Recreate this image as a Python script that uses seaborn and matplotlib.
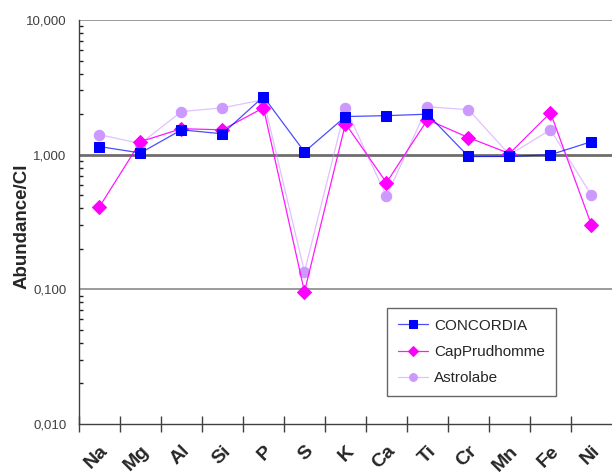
import pandas as pd
import matplotlib
matplotlib.use("Agg")
import matplotlib.pyplot as plt
import matplotlib.colors as mcolors
import matplotlib.transforms as mtransforms
import seaborn as sns

# ── data ────────────────────────────────────────────────────
elements = ["Na", "Mg", "Al", "Si", "P", "S", "K", "Ca", "Ti", "Cr", "Mn", "Fe", "Ni"]
concordia = [1.15, 1.03, 1.53, 1.43, 2.70, 1.05, 1.92, 1.95, 2.00, 0.97, 0.97, 1.00, 1.25]
cap_prudhomme = [0.41, 1.25, 1.56, 1.53, 2.23, 0.096, 1.70, 0.62, 1.82, 1.34, 1.02, 2.05, 0.30]
astrolabe = [1.41, 1.21, 2.09, 2.23, 2.56, 0.135, 2.23, 0.49, 2.27, 2.16, 1.00, 1.53, 0.50]
series_names = ["CONCORDIA", "CapPrudhomme", "Astrolabe"]
ytick_vals = [0.01, 0.1, 1, 10]
ytick_labels = ["0,010", "0,100", "1,000", "10,000"]

df = pd.DataFrame({
    "element": elements * 3,
    "value": concordia + cap_prudhomme + astrolabe,
    "site": [s for s in series_names for _ in elements],
})

sns.set_style("white")
plt.rcParams["font.family"] = ["Liberation Sans", "DejaVu Sans"]

palette = {"CONCORDIA": "#0000FF", "CapPrudhomme": "#FF00FF", "Astrolabe": "#CC99FF"}
markers = {"CONCORDIA": "s", "CapPrudhomme": "D", "Astrolabe": "o"}
msizes = {"CONCORDIA": 7.5, "CapPrudhomme": 7, "Astrolabe": 7.5}
line_alpha = {"CONCORDIA": 0.7, "CapPrudhomme": 0.9, "Astrolabe": 0.6}

fig = plt.figure(figsize=(6.12, 4.73), dpi=100)
ax = fig.add_axes([0.129, 0.1036, 0.871, 0.854])

# reference lines at decades
for v in [0.1, 10]:
    ax.axhline(v, color="#808080", lw=1.1, zorder=0)
ax.axhline(1, color="#6e6e6e", lw=2, zorder=0)

# draw in reverse so CONCORDIA sits on top
for name in series_names[::-1]:
    sub = df[df["site"] == name]
    sns.lineplot(
        data=sub, x="element", y="value", ax=ax, sort=False,
        color=palette[name], marker=markers[name], markersize=msizes[name],
        markeredgecolor=palette[name], markerfacecolor=palette[name],
        lw=0.9, label=name,
    )
    line = ax.get_lines()[-1]
    line.set_color(mcolors.to_rgba(palette[name], line_alpha[name]))

ax.set_yscale("log")
ax.set_ylim(0.01, 10)
ax.set_xlim(-0.5, 12.5)

ax.set_yticks(ytick_vals)
ax.set_yticklabels(ytick_labels, fontsize=9.5, color="#404040")
ax.tick_params(axis="y", which="major", direction="out", length=8, color="#404040", width=1, pad=1)
ax.tick_params(axis="y", which="minor", direction="in", length=3, color="#202020", width=1, left=True)

ax.set_xticks(range(len(elements)))
ax.set_xticklabels(elements, rotation=45, fontsize=14, fontweight="bold",
                   ha="right", va="center", rotation_mode="anchor")
ax.set_xticks([i - 0.5 for i in range(0, len(elements))], minor=True)
ax.tick_params(axis="x", which="major", length=0, pad=14)
ax.tick_params(axis="x", which="minor", direction="inout", length=12, color="#404040", width=1, bottom=True)
shift = mtransforms.ScaledTranslation(6 / 100, -5 / 100, fig.dpi_scale_trans)
for lbl in ax.get_xticklabels():
    lbl.set_transform(lbl.get_transform() + shift)

ax.set_xlabel("")
ax.set_ylabel("Abundance/CI", fontsize=13.5, fontweight="bold")
ax.yaxis.set_label_coords(-0.09, 0.49)

for side in ["top", "right"]:
    ax.spines[side].set_visible(False)
for side in ["left", "bottom"]:
    ax.spines[side].set_color("#404040")
    ax.spines[side].set_linewidth(1)

handles, labels = ax.get_legend_handles_labels()
order = [labels.index(n) for n in series_names]
leg = ax.legend([handles[i] for i in order], [labels[i] for i in order],
                loc="upper left", bbox_to_anchor=(0.578, 0.287),
                fontsize=11, frameon=True, fancybox=False, edgecolor="#404040",
                handlelength=2.0, handletextpad=0.4, labelspacing=0.8,
                borderpad=0.7, borderaxespad=0, markerscale=0.75)
leg.get_frame().set_linewidth(1)

fig.savefig("out.png", dpi=100)
